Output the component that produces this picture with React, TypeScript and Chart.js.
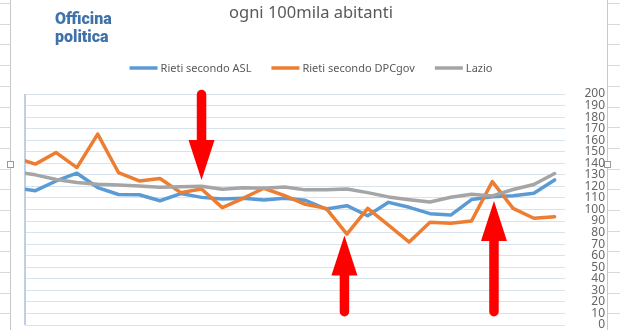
import React, { useEffect, useRef } from "react";
import { Chart, registerables } from "chart.js";

Chart.register(...registerables);

// ---- data ----
const xIndex = [0, 1, 2, 3, 4, 5, 6, 7, 8, 9, 10, 11, 12, 13, 14, 15, 16, 17, 18, 19, 20, 21, 22, 23, 24, 25, 26];

const rietiAsl = [118.8, 116.3, 124.7, 131.4, 119, 113, 112.8, 107.6, 113.8, 110.5, 109, 109.7, 108.2, 109.7, 108, 100.4, 103.3, 94.6, 106.2, 101.9, 96.4, 95.2, 108.6, 111.1, 112, 114, 125.6];
const rietiDpc = [145, 139.3, 149.3, 136.3, 165.3, 132, 124.7, 126.8, 114.6, 117.8, 101.6, 109.7, 118.4, 112, 104.5, 101, 78.7, 101, 86.5, 71.8, 88.9, 88, 90, 124.1, 101, 92.4, 93.8];
const lazio = [132.9, 130, 126, 123.3, 121.9, 121.3, 120.4, 119.3, 119.8, 120.2, 117.6, 118.9, 118.4, 119.5, 117, 117, 117.8, 114.6, 110.9, 108.5, 106.5, 110.6, 113.2, 111.8, 117.3, 121.6, 131.2];

const seriesLabels = ["Rieti secondo ASL", "Rieti secondo DPCgov", "Lazio"];
const seriesColors = ["#5B9BD5", "#ED7D31", "#A5A5A5"];

const yMin = 0;
const yMax = 200;
const yStep = 10;

const titleText = "ogni 100mila abitanti";
const logoLines = ["Officina", "politica"];

// red annotation arrows, in data units (x = category index, values on the y scale)
const arrowX = [9, 15.88, 23.08];
const arrowTail = [199.5, 11.5, 11.5];
const arrowTip = [125.6, 77.5, 107.4];

const FONT = "'Noto Sans', 'Open Sans', sans-serif";

const decorPlugin = {
  id: "decor",
  beforeDraw(chart: any) {
    const { ctx, width, height } = chart;
    ctx.save();
    ctx.fillStyle = "#ffffff";
    ctx.fillRect(0, 0, width, height);
    // spreadsheet row lines outside the chart object
    ctx.strokeStyle = "#d9d9d9";
    ctx.lineWidth = 1;
    for (let y = 3; y < height; y += 20.7) {
      const yy = Math.round(y) + 0.5;
      ctx.beginPath();
      ctx.moveTo(0, yy);
      ctx.lineTo(10, yy);
      ctx.moveTo(608, yy);
      ctx.lineTo(width, yy);
      ctx.stroke();
    }
    // chart object border
    ctx.strokeStyle = "#c8c8c8";
    ctx.beginPath();
    ctx.moveTo(10.5, 0);
    ctx.lineTo(10.5, height);
    ctx.moveTo(607.5, 0);
    ctx.lineTo(607.5, height);
    ctx.stroke();
    // selection handles
    ctx.fillStyle = "#ffffff";
    ctx.strokeStyle = "#9a9a9a";
    [[7, 161], [604, 161]].forEach(([hx, hy]) => {
      ctx.fillRect(hx, hy, 7, 7);
      ctx.strokeRect(hx + 0.5, hy + 0.5, 6, 6);
    });

    // title
    ctx.fillStyle = "#595959";
    ctx.font = `16.5px ${FONT}`;
    ctx.textAlign = "center";
    ctx.textBaseline = "alphabetic";
    ctx.fillText(titleText, 311, 18);

    // logo
    ctx.fillStyle = "#3f72a8";
    ctx.font = "900 16px Roboto, sans-serif";
    ctx.textAlign = "left";
    ctx.fillText(logoLines[0], 55, 23.5);
    ctx.fillText(logoLines[1], 55, 42);

    // legend
    ctx.font = `11px ${FONT}`;
    const sw = 28;
    const gapText = 3;
    const gapItem = 20;
    const widths = seriesLabels.map((t) => ctx.measureText(t).width);
    const total = widths.reduce((a, w) => a + sw + gapText + w, 0) + gapItem * (seriesLabels.length - 1);
    let lx = 311 - total / 2;
    const ly = 68;
    seriesLabels.forEach((t, i) => {
      ctx.strokeStyle = seriesColors[i];
      ctx.lineWidth = 3.5;
      ctx.lineCap = "butt";
      ctx.beginPath();
      ctx.moveTo(lx, ly);
      ctx.lineTo(lx + sw, ly);
      ctx.stroke();
      ctx.fillStyle = "#595959";
      ctx.textBaseline = "middle";
      ctx.fillText(t, lx + sw + gapText, ly + 0.5);
      lx += sw + gapText + widths[i] + gapItem;
    });
    ctx.restore();
  },
  beforeDatasetsDraw(chart: any) {
    const { ctx, chartArea } = chart;
    ctx.save();
    ctx.strokeStyle = "#bfd0e2";
    ctx.lineWidth = 2;
    ctx.beginPath();
    ctx.moveTo(chartArea.left, chartArea.top);
    ctx.lineTo(chartArea.left, chartArea.bottom);
    ctx.stroke();
    ctx.restore();
  },
  afterDraw(chart: any) {
    const { ctx } = chart;
    const xs = chart.scales.x;
    const ys = chart.scales.y;
    ctx.save();
    ctx.fillStyle = "#ff0000";
    ctx.strokeStyle = "#ff0000";
    const shaftW = 9.5;
    const headW = 26;
    const headL = 40;
    arrowX.forEach((ax, i) => {
      const x = xs.getPixelForValue(ax);
      const yTail = ys.getPixelForValue(arrowTail[i]);
      const yTip = ys.getPixelForValue(arrowTip[i]);
      const dir = yTip > yTail ? 1 : -1;
      const yBase = yTip - dir * headL;
      // shaft
      ctx.lineWidth = shaftW;
      ctx.lineCap = "round";
      ctx.beginPath();
      ctx.moveTo(x, yTail);
      ctx.lineTo(x, yBase + dir * 2);
      ctx.stroke();
      // head
      ctx.beginPath();
      ctx.moveTo(x - headW / 2, yBase);
      ctx.lineTo(x + headW / 2, yBase);
      ctx.lineTo(x, yTip);
      ctx.closePath();
      ctx.fill();
    });
    ctx.restore();
  },
};

export default function App() {
  const canvasRef = useRef<HTMLCanvasElement | null>(null);

  useEffect(() => {
    if (!canvasRef.current) return;
    const series = [rietiAsl, rietiDpc, lazio];
    const chart = new Chart(canvasRef.current, {
      type: "line",
      data: {
        datasets: seriesLabels.map((label, k) => ({
          label,
          data: xIndex.map((x, i) => ({ x, y: series[k][i] })),
          borderColor: seriesColors[k],
          backgroundColor: seriesColors[k],
          borderWidth: 3.5,
          pointRadius: 0,
          tension: 0,
          fill: false,
          borderJoinStyle: "round" as const,
          borderCapStyle: "round" as const,
          order: 3 - k,
          clip: { left: 0, right: 8, top: 8, bottom: 8 },
        })),
      },
      options: {
        animation: false,
        responsive: false,
        maintainAspectRatio: false,
        layout: { padding: { top: 94, left: 25, right: 15, bottom: 5 } },
        plugins: {
          legend: { display: false },
          title: { display: false },
          tooltip: { enabled: false },
        },
        scales: {
          x: { type: "linear", min: 0.5, max: 26.5, display: false },
          y: {
            position: "right",
            min: yMin,
            max: yMax,
            ticks: {
              stepSize: yStep,
              autoSkip: false,
              padding: 12,
              crossAlign: "far",
              color: "#666666",
              font: { family: FONT, size: 12 },
            },
            grid: { color: "#d9e3ee", lineWidth: 1, drawTicks: false },
            border: { display: false },
            afterFit(scale: any) {
              scale.width = 40;
              scale.paddingTop = 0;
              scale.paddingBottom = 0;
            },
          },
        },
      },
      plugins: [decorPlugin],
    });
    return () => chart.destroy();
  }, []);

  return (
    <div style={{ position: "absolute", left: 0, top: 0, width: 620, height: 330, background: "#fff" }}>
      <canvas ref={canvasRef} width={620} height={330} style={{ display: "block" }} />
    </div>
  );
}
